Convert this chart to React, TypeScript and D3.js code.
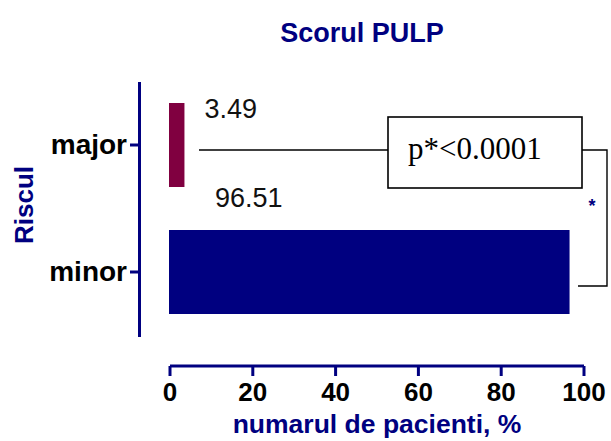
import React from "react";
import * as d3 from "d3";

const categories = ["major", "minor"];
const values = [3.49, 96.51];
const barColors = ["#800040", "#000080"];
const xTicks = [0, 20, 40, 60, 80, 100];
const title = "Scorul PULP";
const xTitle = "numarul de pacienti, %";
const yTitle = "Riscul";
const pText = "p*<0.0001";

const W = 611;
const H = 441;
const NAVY = "#000080";
const SANS = "Arial, 'Liberation Sans', Helvetica, sans-serif";
const SERIF = "'Times New Roman', 'Liberation Serif', serif";

export default function App() {
  const x = d3.scaleLinear().domain([0, 100]).range([170, 584]);
  const y = d3.scalePoint<string>().domain(categories).range([145, 272]);
  const barH = 84;
  const axisY = 366;
  const axisX = 139.5;

  const yMaj = y("major")!;
  const yMin = y("minor")!;

  return (
    <svg width={W} height={H} style={{ position: "absolute", left: 0, top: 0 }}>
      <rect width={W} height={H} fill="#fff" />
      <text x={362} y={42} textAnchor="middle" fontFamily={SANS} fontWeight="bold" fontSize={27} fill={NAVY}>
        {title}
      </text>

      {/* bars */}
      {categories.map((c, i) => (
        <rect
          key={c}
          x={x(0) - 1}
          y={y(c)! - barH / 2}
          width={x(values[i]) - x(0) + 1}
          height={barH}
          fill={barColors[i]}
        />
      ))}

      {/* value labels */}
      <text x={x(values[0]) + 20} y={yMaj - 27} fontFamily={SANS} fontSize={27} fill="#111">
        {values[0].toFixed(2)}
      </text>
      <text x={x(0) + 45} y={yMin - 65} fontFamily={SANS} fontSize={27} fill="#111">
        {values[1].toFixed(2)}
      </text>

      {/* y axis */}
      <line x1={axisX} x2={axisX} y1={82} y2={337} stroke={NAVY} strokeWidth={3} />
      {categories.map((c) => (
        <g key={c}>
          <line x1={130} x2={axisX} y1={y(c)!} y2={y(c)!} stroke={NAVY} strokeWidth={3} />
          <text x={127} y={y(c)! + 9} textAnchor="end" fontFamily={SANS} fontWeight="bold" fontSize={28} fill="#000">
            {c}
          </text>
        </g>
      ))}
      <text
        transform={`translate(33,205) rotate(-90)`}
        textAnchor="middle"
        fontFamily={SANS}
        fontWeight="bold"
        fontSize={26}
        fill={NAVY}
      >
        {yTitle}
      </text>

      {/* x axis */}
      <line x1={x(0)} x2={x(100)} y1={axisY} y2={axisY} stroke={NAVY} strokeWidth={3} />
      {xTicks.map((t) => (
        <g key={t}>
          <line x1={x(t)} x2={x(t)} y1={axisY} y2={axisY + 10} stroke={NAVY} strokeWidth={3} />
          <text x={x(t)} y={401} textAnchor="middle" fontFamily={SANS} fontWeight="bold" fontSize={26} fill="#000">
            {t}
          </text>
        </g>
      ))}
      <text x={377} y={433} textAnchor="middle" fontFamily={SANS} fontWeight="bold" fontSize={26.5} fill={NAVY}>
        {xTitle}
      </text>

      {/* significance annotation */}
      <line x1={199} x2={388} y1={yMaj + 5} y2={yMaj + 5} stroke="#000" strokeWidth={1.4} />
      <rect x={388} y={117} width={194} height={71} fill="#fff" stroke="#000" strokeWidth={1.6} />
      <text x={408} y={159} fontFamily={SERIF} fontSize={31} fill="#000">
        {pText}
      </text>
      <polyline
        points={`582,${yMaj + 5} 607,${yMaj + 5} 607,${yMin + 14} 578,${yMin + 14}`}
        fill="none"
        stroke="#000"
        strokeWidth={1.4}
      />
      <text x={592} y={212} textAnchor="middle" fontFamily={SANS} fontWeight="bold" fontSize={18} fill={NAVY}>
        *
      </text>
    </svg>
  );
}
